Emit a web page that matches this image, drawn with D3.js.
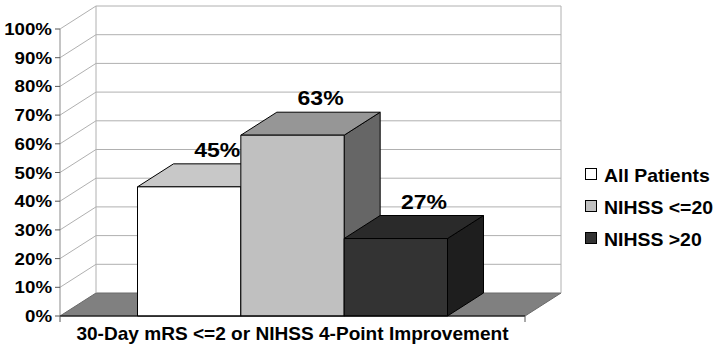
<!DOCTYPE html>
<html><head><meta charset="utf-8">
<script src="https://cdnjs.cloudflare.com/ajax/libs/d3/7.8.5/d3.min.js"></script>
<style>body{margin:0;background:#fff}svg{display:block}text{font-family:"Liberation Sans",Arial,sans-serif;font-weight:bold;fill:#000}</style>
</head><body><svg id="c" width="720" height="349"></svg>
<script>
const categories = ["30-Day mRS <=2 or NIHSS 4-Point Improvement"];
const seriesNames = ["All Patients", "NIHSS <=20", "NIHSS >20"];
const seriesValues = [45, 63, 27];
const valueLabels = ["45%", "63%", "27%"];
const yTicks = [0,10,20,30,40,50,60,70,80,90,100];
const yTickLabels = ["0%","10%","20%","30%","40%","50%","60%","70%","80%","90%","100%"];

const colors = [
  {front:"#ffffff", top:"#c8c8c8", side:"#9a9a9a"},
  {front:"#c0c0c0", top:"#969696", side:"#666666"},
  {front:"#333333", top:"#2a2a2a", side:"#1e1e1e"}
];
const legendFill = ["#ffffff","#c0c0c0","#333333"];

const svg = d3.select("#c");
const DX = 36, DY = 23;
const y = d3.scaleLinear().domain([0,100]).range([316,29]);
const x = d3.scaleBand().domain(categories).range([60,525]).paddingInner(0).paddingOuter(0.25);
const xs = d3.scaleBand().domain(seriesNames).range([0, x.bandwidth()]).padding(0);

function stretchedText(g, str, tx, ty, size, anchor, sx) {
  return g.append("text").attr("transform", `translate(${tx},${ty}) scale(${sx},1)`)
    .attr("text-anchor", anchor).style("font-size", size + "px").text(str);
}

const x0 = 60, x1 = 525;
// floor
svg.append("path")
  .attr("d", `M${x0},${y(0)}L${x1},${y(0)}L${x1+DX},${y(0)-DY}L${x0+DX},${y(0)-DY}Z`)
  .attr("fill", "#808080").attr("stroke", "#6a6a6a").attr("stroke-width", 1);

// gridlines: back wall and side wall
const grid = svg.append("g").attr("stroke", "#b0b0b0").attr("stroke-width", 1).attr("fill","none");
yTicks.forEach(v => {
  if (v > 0) {
    grid.append("line").attr("x1", x0+DX).attr("x2", x1+DX).attr("y1", y(v)-DY).attr("y2", y(v)-DY);
    grid.append("line").attr("x1", x0).attr("x2", x0+DX).attr("y1", y(v)).attr("y2", y(v)-DY);
  }
});
grid.append("line").attr("x1", x0+DX).attr("x2", x0+DX).attr("y1", y(100)-DY).attr("y2", y(0)-DY);
grid.append("line").attr("x1", x1+DX).attr("x2", x1+DX).attr("y1", y(100)-DY).attr("y2", y(0)-DY);

// bars
const gx = x(categories[0]);
seriesNames.forEach((s, i) => {
  const v = seriesValues[i];
  const bx0 = gx + xs(s), bx1 = bx0 + xs.bandwidth();
  const yt = y(v), yb = y(0);
  const g = svg.append("g").attr("stroke", "#000").attr("stroke-width", 1).attr("stroke-linejoin","round");
  g.append("path").attr("d", `M${bx1},${yt}L${bx1+DX},${yt-DY}L${bx1+DX},${yb-DY}L${bx1},${yb}Z`).attr("fill", colors[i].side);
  g.append("path").attr("d", `M${bx0},${yt}L${bx0+DX},${yt-DY}L${bx1+DX},${yt-DY}L${bx1},${yt}Z`).attr("fill", colors[i].top);
  g.append("rect").attr("x", bx0).attr("y", yt).attr("width", bx1-bx0).attr("height", yb-yt).attr("fill", colors[i].front);
});

// value labels
seriesNames.forEach((s, i) => {
  const cx = gx + xs(s) + xs.bandwidth()/2 + DX*0.78;
  stretchedText(svg, valueLabels[i], cx, y(seriesValues[i]) - DY - 7, 20, "middle", 1.15);
});

// axes: left vertical
svg.append("line").attr("x1", x0).attr("x2", x0).attr("y1", y(100)).attr("y2", y(0)).attr("stroke", "#8a8a8a");
const yt = svg.append("g");
yTicks.forEach((v, i) => {
  yt.append("line").attr("x1", x0-5).attr("x2", x0).attr("y1", y(v)).attr("y2", y(v)).attr("stroke", "#555");
  stretchedText(yt, yTickLabels[i], 52, y(v) + 6, 17, "end", 1.1);
});
// x axis baseline
svg.append("line").attr("x1", x0).attr("x2", x1).attr("y1", y(0)).attr("y2", y(0)).attr("stroke", "#000");
[x0, x1].forEach(px => svg.append("line").attr("x1", px).attr("x2", px).attr("y1", y(0)).attr("y2", y(0)+6).attr("stroke", "#555"));
// category label
stretchedText(svg, categories[0], gx + x.bandwidth()/2, 340, 18, "middle", 1.06);

// legend
const lg = svg.append("g");
seriesNames.forEach((s, i) => {
  const ly = 175 + i*32;
  lg.append("rect").attr("x", 585.5).attr("y", ly - 6.5).attr("width", 11).attr("height", 11)
    .attr("fill", legendFill[i]).attr("stroke", "#000");
  stretchedText(lg, s, 604, ly + 6.5, 18, "start", 1.08);
});
</script></body></html>
